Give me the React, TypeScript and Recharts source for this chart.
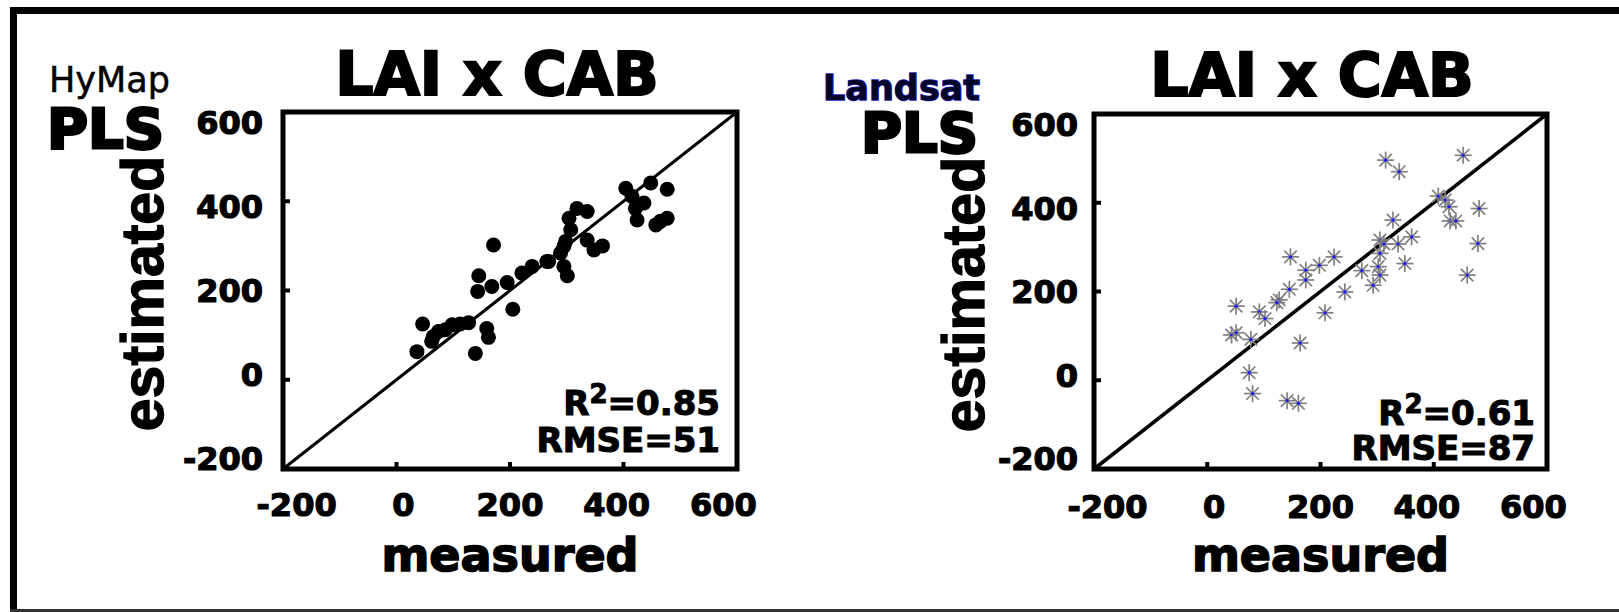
import React from 'react'
import { ScatterChart, Scatter, XAxis, YAxis, ReferenceArea, ReferenceLine, Label } from 'recharts'

// shared axis range and ticks (same for measured and estimated)
const axisTicks = [-200, 0, 200, 400, 600]
const axisDomain: [number, number] = [-200, 600]

// HyMap PLS: measured vs estimated
const hymapMeasured = [36, 46, 65, 74, 86, 98, 112, 127, 62, 139, 159, 162, 145, 143, 171, 168, 195, 205, 221, 239, 265, 268, 295, 301, 295, 298, 289, 304, 318, 336, 307, 336, 348, 363, 404, 415, 421, 436, 424, 448, 457, 477, 477, 465]
const hymapEstimated = [63, 125, 97, 108, 112, 123, 125, 128, 86, 59, 115, 95, 233, 198, 302, 209, 218, 158, 239, 254, 265, 265, 254, 233, 299, 310, 284, 362, 384, 377, 336, 313, 291, 300, 429, 411, 384, 396, 358, 441, 347, 427, 362, 355]

// Landsat PLS: measured vs estimated
const landsatMeasured = [315, 339, 452, 408, 420, 427, 429, 439, 480, 478, 459, 328, 305, 312, 337, 361, 349, 305, 302, 305, 293, 273, 243, 224, 198, 174, 174, 147, 145, 127, 123, 208, 92, 102, 51, 43, 51, 77, 164, 74, 80, 141, 161]
const landsatEstimated = [496, 470, 507, 415, 406, 391, 359, 359, 387, 308, 237, 361, 316, 307, 307, 323, 263, 286, 256, 237, 214, 247, 199, 278, 259, 248, 226, 278, 205, 181, 175, 152, 154, 139, 167, 102, 107, 92, 84, 17, -30, -46, -52]

const hymapData = hymapMeasured.map((x, i) => ({ x, y: hymapEstimated[i] }))
const landsatData = landsatMeasured.map((x, i) => ({ x, y: landsatEstimated[i] }))

const FONT = 'DejaVu Sans'
const NARROW = 'Liberation Sans'

const Dot = (p: any) => <circle cx={p.cx} cy={p.cy} r={7.5} fill="#000" />

const Star = (p: any) => {
    const { cx, cy } = p
    const r = 8.5
    const d = 6.2
    return (
        <g stroke="#808080" strokeWidth={1.7}>
            <line x1={cx - r} y1={cy} x2={cx + r} y2={cy} />
            <line x1={cx} y1={cy - r} x2={cx} y2={cy + r} />
            <line x1={cx - d} y1={cy - d} x2={cx + d} y2={cy + d} />
            <line x1={cx - d} y1={cy + d} x2={cx + d} y2={cy - d} />
            <circle cx={cx} cy={cy} r={1.6} fill="#1a1aff" stroke="none" />
        </g>
    )
}

// tick labels sit slightly pulled towards the middle of the box
const SQUEEZE = 0.94

const tickText = { fontFamily: FONT, fontWeight: 'bold' as const, fontSize: 32, fill: '#000', stroke: '#000', strokeWidth: 1.2 }

const XTick = (p: any) => {
    const { x, y, payload, mid, drop } = p
    return (
        <g>
            <line x1={x} x2={x} y1={y} y2={y - 7} stroke="#000" strokeWidth={4} />
            <text x={mid + (x - mid) * SQUEEZE} y={y + drop} textAnchor="middle" {...tickText}>
                {payload.value}
            </text>
        </g>
    )
}

const YTick = (p: any) => {
    const { x, y, payload, mid, gap } = p
    return (
        <g>
            <line x1={x} x2={x + 7} y1={y} y2={y} stroke="#000" strokeWidth={4} />
            <text x={x - gap} y={mid + (y - mid) * SQUEEZE + 11.7} textAnchor="end" {...tickText}>
                {payload.value}
            </text>
        </g>
    )
}

// rotated y title, baseline on the right of the axis band centre
const YTitle = (p: any) => {
    const vb = p.viewBox
    const bx = vb.x + vb.width / 2 + 18.5
    const cy = vb.y + vb.height / 2 + 3
    return (
        <text transform={`translate(${bx},${cy}) rotate(-90)`} textAnchor="middle"
            fontFamily={NARROW} fontWeight="bold" fontSize={59} fill="#000" stroke="#000" strokeWidth={1.4}>
            estimated
        </text>
    )
}

type PanelProps = {
    left: number
    width: number
    margin: { top: number; right: number; bottom: number; left: number }
    yAxisWidth: number
    data: { x: number; y: number }[]
    shape: (p: any) => React.ReactElement
    lineWidth: number
    xMid: number
    yMid: number
    xDrop: number
    yGap: number
}

function Panel({ left, width, margin, yAxisWidth, data, shape, lineWidth, xMid, yMid, xDrop, yGap }: PanelProps) {
    return (
        <div style={{ position: 'absolute', left, top: 0 }}>
            <ScatterChart width={width} height={612} margin={margin}>
                <XAxis dataKey="x" type="number" domain={axisDomain} ticks={axisTicks} interval={0}
                    allowDataOverflow height={612 - 469 - margin.bottom} tickSize={0} tickMargin={0}
                    axisLine={false} tickLine={false}
                    tick={(p: any) => <XTick {...p} mid={xMid} drop={xDrop} />}>
                    <Label value="measured" position="insideTop" offset={69} fontFamily={FONT}
                        fontWeight="bold" fontSize={46} fill="#000" stroke="#000" strokeWidth={1.6} />
                </XAxis>
                <YAxis dataKey="y" type="number" domain={axisDomain} ticks={axisTicks} interval={0}
                    allowDataOverflow width={yAxisWidth} tickSize={0} tickMargin={0}
                    axisLine={false} tickLine={false}
                    tick={(p: any) => <YTick {...p} mid={yMid} gap={yGap} />}>
                    <Label position="center" content={YTitle} />
                </YAxis>
                <ReferenceLine segment={[{ x: -200, y: -200 }, { x: 600, y: 600 }]} stroke="#000"
                    strokeWidth={lineWidth} />
                <Scatter data={data} shape={shape} isAnimationActive={false} />
                <ReferenceArea x1={-200} x2={600} y1={-200} y2={600} fill="none" fillOpacity={0}
                    stroke="#000" strokeWidth={5} />
            </ScatterChart>
        </div>
    )
}

const boldText = { fontFamily: FONT, fontWeight: 'bold' as const, fill: '#000', stroke: '#000' }

export default function App() {
    return (
        <div style={{ position: 'absolute', left: 0, top: 0, width: 1619, height: 612, background: '#fff', overflow: 'hidden' }}>
            {/* page frame */}
            <div style={{ position: 'absolute', left: 10, top: 7, width: 1609, height: 7, background: '#000' }} />
            <div style={{ position: 'absolute', left: 10, top: 7, width: 7, height: 605, background: '#000' }} />
            <div style={{ position: 'absolute', left: 10, top: 609, width: 1609, height: 3, background: '#333' }} />

            <Panel left={0} width={760} margin={{ top: 112, right: 23, bottom: 0, left: 6 }} yAxisWidth={277}
                data={hymapData} shape={Dot} lineWidth={3} xMid={510} yMid={290.5} xDrop={47} yGap={20} />
            <Panel left={830} width={789} margin={{ top: 114, right: 72, bottom: 0, left: 7 }} yAxisWidth={257}
                data={landsatData} shape={Star} lineWidth={3.6} xMid={490.5} yMid={291.5} xDrop={49} yGap={16} />

            <svg width={1619} height={612} style={{ position: 'absolute', left: 0, top: 0, pointerEvents: 'none' }}>
                <text x={49} y={92} fontFamily={FONT} fontSize={35} fill="#000" stroke="#000" strokeWidth={0.5}>HyMap</text>
                <text x={47} y={148} fontSize={56} strokeWidth={2.8} {...boldText}>PLS</text>
                <text x={497} y={95} fontSize={60} textAnchor="middle" strokeWidth={2.2} {...boldText}>LAI x CAB</text>
                <text x={720} y={415} fontSize={34} textAnchor="end" strokeWidth={1.1} {...boldText}>
                    R<tspan fontSize={26} dy={-12}>2</tspan><tspan dy={12}>=0.85</tspan>
                </text>
                <text x={720} y={452} fontSize={34} textAnchor="end" strokeWidth={1.1} {...boldText}>RMSE=51</text>

                <text x={823} y={100} fontSize={35} fontFamily={FONT} fontWeight="bold" fill="#060628" stroke="#1a1acc"
                    strokeWidth={1.4} paintOrder="stroke">Landsat</text>
                <text x={861} y={152} fontSize={56} strokeWidth={2.8} {...boldText}>PLS</text>
                <text x={1312} y={96} fontSize={60} textAnchor="middle" strokeWidth={2.2} {...boldText}>LAI x CAB</text>
                <text x={1535} y={425} fontSize={34} textAnchor="end" strokeWidth={1.1} {...boldText}>
                    R<tspan fontSize={26} dy={-12}>2</tspan><tspan dy={12}>=0.61</tspan>
                </text>
                <text x={1535} y={460} fontSize={34} textAnchor="end" strokeWidth={1.1} {...boldText}>RMSE=87</text>
            </svg>
        </div>
    )
}
